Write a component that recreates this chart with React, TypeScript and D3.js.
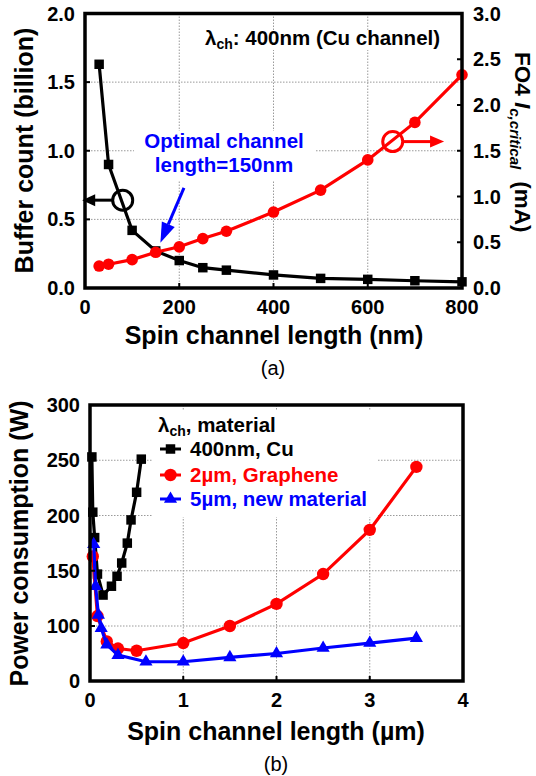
import React from "react";
import * as d3 from "d3";

// ---------- (a) data ----------
const lengthNm = [30, 50, 100, 150, 200, 250, 300, 400, 500, 600, 700, 800];
const bufferCount = [1.63, 0.9, 0.42, 0.27, 0.2, 0.148, 0.13, 0.095, 0.07, 0.063, 0.053, 0.045];
const icCritical = [0.24, 0.26, 0.31, 0.39, 0.45, 0.54, 0.62, 0.83, 1.07, 1.4, 1.81, 2.33];
const topXTicks = [0, 200, 400, 600, 800];
const topXTickLabels = ["0", "200", "400", "600", "800"];
const leftTicks = [0, 0.5, 1, 1.5, 2];
const leftTickLabels = ["0.0", "0.5", "1.0", "1.5", "2.0"];
const rightTicks = [0, 0.5, 1, 1.5, 2, 2.5, 3];
const rightTickLabels = ["0.0", "0.5", "1.0", "1.5", "2.0", "2.5", "3.0"];

// ---------- (b) data ----------
const cuLen = [0.02, 0.03, 0.05, 0.08, 0.14, 0.23, 0.29, 0.34, 0.4, 0.44, 0.5, 0.55];
const cuPower = [253, 203, 180, 147, 128, 136, 145, 157, 175, 196, 221, 251];
const grLen = [0.03, 0.08, 0.18, 0.3, 0.5, 1, 1.5, 2, 2.5, 3, 3.5];
const grPower = [163, 109, 72, 59, 55, 69, 100, 120, 147, 187, 244];
const nmLen = [0.04, 0.06, 0.09, 0.12, 0.18, 0.3, 0.6, 1, 1.5, 2, 2.5, 3, 3.5];
const nmPower = [174, 136, 110, 96, 66, 47, 35, 35, 43, 50, 60, 69, 78];
const botXTicks = [0, 1, 2, 3, 4];
const botXTickLabels = ["0", "1", "2", "3", "4"];
const botYTicks = [0, 100, 150, 200, 250, 300];
const botYTickLabels = ["0", "100", "150", "200", "250", "300"];
const legendLabels = ["400nm, Cu", "2\u00b5m, Graphene", "5\u00b5m, new material"];

const FONT = "'Liberation Sans', Arial, Helvetica, sans-serif";
const RED = "#ff0000";
const BLUE = "#0000ff";
const GRID = "#9a9a9a";

export default function App() {
  const xT = d3.scaleLinear().domain([0, 800]).range([85, 462]);
  const yL = d3.scaleLinear().domain([0, 2]).range([288, 13.5]);
  const yR = d3.scaleLinear().domain([0, 3]).range([288, 13.5]);
  const xB = d3.scaleLinear().domain([0, 4]).range([90, 463]);
  const yB = d3.scaleLinear().domain([0, 100, 300]).range([681, 626, 405]);

  const mkLine = (xs: number[], ys: number[], sx: any, sy: any) =>
    d3.line()(xs.map((x, i) => [sx(x), sy(ys[i])] as [number, number])) || "";
  const sqPath = d3.symbol(d3.symbolSquare, 90)() || "";
  const triPath = d3.symbol(d3.symbolTriangle, 75)() || "";

  // annotation anchor points (data units)
  const blkCirc = { x: 80, y: 0.64 };
  const blkTip = -6;
  const redCirc = { x: 653, y: 1.6 };
  const redTip = 762;
  const blueStart = { x: 210, y: 0.73 };
  const blueTip = { x: 160, y: 0.33 };

  const bs = [xT(blueStart.x), yL(blueStart.y)];
  const bt = [xT(blueTip.x), yL(blueTip.y)];
  const dx = bt[0] - bs[0], dy = bt[1] - bs[1];
  const len = Math.hypot(dx, dy);
  const ux = dx / len, uy = dy / len;
  const hb = [bt[0] - ux * 20, bt[1] - uy * 20];
  const px = -uy, py = ux;
  const blueHead = `M${bt[0]},${bt[1]}L${hb[0] + px * 7},${hb[1] + py * 7}L${hb[0] - px * 7},${hb[1] - py * 7}Z`;

  const bcx = xT(blkCirc.x), bcy = yL(blkCirc.y);
  const btx = xT(blkTip);
  const rcx = xT(redCirc.x), rcy = yR(redCirc.y);
  const rtx = xT(redTip);

  return (
    <svg width={536} height={776} style={{ position: "absolute", left: 0, top: 0, background: "#fff" }} fontFamily={FONT}>
      <rect x={0} y={0} width={536} height={776} fill="#fff" />
      {/* ========== (a) ========== */}
      <g>
        {topXTicks.slice(1, -1).map((t) => (
          <line key={"gx" + t} x1={xT(t)} x2={xT(t)} y1={yL(2)} y2={yL(0)} stroke={GRID} strokeWidth={1} strokeDasharray="1.5 1.5" />
        ))}
        {leftTicks.slice(1, -1).map((t) => (
          <line key={"gy" + t} x1={xT(0)} x2={xT(800)} y1={yL(t)} y2={yL(t)} stroke={GRID} strokeWidth={1} strokeDasharray="1.5 1.5" />
        ))}
        {/* text backgrounds */}
        <rect x={200} y={30} width={246} height={20} fill="#fff" />
        <rect x={134} y={131} width={182} height={49} fill="#fff" />

        {/* buffer count */}
        <path d={mkLine(lengthNm, bufferCount, xT, yL)} fill="none" stroke="#000" strokeWidth={3.2} />
        {lengthNm.map((x, i) => (
          <path key={"bq" + i} d={sqPath} transform={`translate(${xT(x)},${yL(bufferCount[i])})`} fill="#000" />
        ))}
        {/* Ic critical */}
        <path d={mkLine(lengthNm, icCritical, xT, yR)} fill="none" stroke={RED} strokeWidth={3.2} />
        {lengthNm.map((x, i) => (
          <circle key={"rc" + i} cx={xT(x)} cy={yR(icCritical[i])} r={5.8} fill={RED} />
        ))}

        {/* frame */}
        <rect x={xT(0)} y={yL(2)} width={xT(800) - xT(0)} height={yL(0) - yL(2)} fill="none" stroke="#000" strokeWidth={3.5} />
        {leftTicks.slice(1, -1).map((t) => (
          <line key={"lt" + t} x1={xT(0)} x2={xT(0) + 5} y1={yL(t)} y2={yL(t)} stroke="#000" strokeWidth={2} />
        ))}
        {rightTicks.slice(1, -1).map((t) => (
          <line key={"rt" + t} x1={xT(800)} x2={xT(800) - 5} y1={yR(t)} y2={yR(t)} stroke="#000" strokeWidth={2} />
        ))}
        {topXTicks.slice(1, -1).map((t) => (
          <line key={"xt" + t} x1={xT(t)} x2={xT(t)} y1={yL(0)} y2={yL(0) - 5} stroke="#000" strokeWidth={2} />
        ))}

        {/* tick labels */}
        {leftTicks.map((t, i) => (
          <text key={"ll" + t} x={75} y={yL(t) + 7} textAnchor="end" fontSize={20} fontWeight="bold">{leftTickLabels[i]}</text>
        ))}
        {rightTicks.map((t, i) => (
          <text key={"rl" + t} x={473} y={yR(t) + 7} textAnchor="start" fontSize={20} fontWeight="bold">{rightTickLabels[i]}</text>
        ))}
        {topXTicks.map((t, i) => (
          <text key={"xl" + t} x={xT(t)} y={314} textAnchor="middle" fontSize={20} fontWeight="bold">{topXTickLabels[i]}</text>
        ))}

        {/* axis titles */}
        <text transform="translate(33,150.5) rotate(-90)" textAnchor="middle" fontSize={25} fontWeight="bold">Buffer count (billion)</text>
        <text transform="translate(515,52) rotate(90)" textAnchor="start" fontSize={22.5} fontWeight="bold">
          <tspan>FO4 </tspan>
          <tspan fontStyle="italic">I</tspan>
          <tspan fontStyle="italic" fontSize={15} dy={5}>c,critical</tspan>
          <tspan dy={-5} dx={12}>(mA)</tspan>
        </text>
        <text x={274} y={344} textAnchor="middle" fontSize={25} fontWeight="bold">Spin channel length (nm)</text>
        <text x={273} y={375} textAnchor="middle" fontSize={20}>(a)</text>

        {/* annotations */}
        <text x={205} y={45} fontSize={20.5} fontWeight="bold">
          <tspan>{"\u03bb"}</tspan>
          <tspan fontSize={14} dy={4}>ch</tspan>
          <tspan dy={-4}>: 400nm (Cu channel)</tspan>
        </text>
        <text x={224} y={148} textAnchor="middle" fontSize={20.5} fontWeight="bold" fill={BLUE}>Optimal channel</text>
        <text x={224} y={172} textAnchor="middle" fontSize={20.5} fontWeight="bold" fill={BLUE}>length=150nm</text>

        <circle cx={bcx} cy={bcy} r={10} fill="none" stroke="#000" strokeWidth={3} />
        <line x1={bcx - 10} x2={btx + 12} y1={bcy} y2={bcy} stroke="#000" strokeWidth={3} />
        <path d={`M${btx},${bcy}L${btx + 13},${bcy - 6}L${btx + 13},${bcy + 6}Z`} fill="#000" />

        <circle cx={rcx} cy={rcy} r={10} fill="none" stroke={RED} strokeWidth={3} />
        <line x1={rcx + 10} x2={rtx - 12} y1={rcy} y2={rcy} stroke={RED} strokeWidth={3} />
        <path d={`M${rtx},${rcy}L${rtx - 14},${rcy - 6}L${rtx - 14},${rcy + 6}Z`} fill={RED} />

        <line x1={bs[0]} y1={bs[1]} x2={hb[0]} y2={hb[1]} stroke={BLUE} strokeWidth={3} />
        <path d={blueHead} fill={BLUE} />
      </g>

      {/* ========== (b) ========== */}
      <g>
        {botXTicks.slice(1, -1).map((t) => (
          <line key={"bgx" + t} x1={xB(t)} x2={xB(t)} y1={yB(300)} y2={yB(0)} stroke={GRID} strokeWidth={1} strokeDasharray="1.5 1.5" />
        ))}
        {botYTicks.slice(1, -1).map((t) => (
          <line key={"bgy" + t} x1={xB(0)} x2={xB(4)} y1={yB(t)} y2={yB(t)} stroke={GRID} strokeWidth={1} strokeDasharray="1.5 1.5" />
        ))}
        {/* legend background */}
        <rect x={152} y={410} width={226} height={107} fill="#fff" />

        <path d={mkLine(cuLen, cuPower, xB, yB)} fill="none" stroke="#000" strokeWidth={3.2} />
        {cuLen.map((x, i) => (
          <path key={"cq" + i} d={sqPath} transform={`translate(${xB(x)},${yB(cuPower[i])})`} fill="#000" />
        ))}
        <path d={mkLine(grLen, grPower, xB, yB)} fill="none" stroke={RED} strokeWidth={3.2} />
        {grLen.map((x, i) => (
          <circle key={"gc" + i} cx={xB(x)} cy={yB(grPower[i])} r={6.2} fill={RED} />
        ))}
        <path d={mkLine(nmLen, nmPower, xB, yB)} fill="none" stroke={BLUE} strokeWidth={3.2} />
        {nmLen.map((x, i) => (
          <path key={"nt" + i} d={triPath} transform={`translate(${xB(x)},${yB(nmPower[i])})`} fill={BLUE} />
        ))}

        <rect x={xB(0)} y={yB(300)} width={xB(4) - xB(0)} height={yB(0) - yB(300)} fill="none" stroke="#000" strokeWidth={3.5} />
        {botYTicks.slice(1, -1).map((t) => (
          <line key={"blt" + t} x1={xB(0)} x2={xB(0) + 5} y1={yB(t)} y2={yB(t)} stroke="#000" strokeWidth={2} />
        ))}
        {botXTicks.slice(1, -1).map((t) => (
          <line key={"bxt" + t} x1={xB(t)} x2={xB(t)} y1={yB(0)} y2={yB(0) - 5} stroke="#000" strokeWidth={2} />
        ))}

        {botYTicks.map((t, i) => (
          <text key={"byl" + t} x={80} y={yB(t) + 7} textAnchor="end" fontSize={20} fontWeight="bold">{botYTickLabels[i]}</text>
        ))}
        {botXTicks.map((t, i) => (
          <text key={"bxl" + t} x={xB(t)} y={707} textAnchor="middle" fontSize={20} fontWeight="bold">{botXTickLabels[i]}</text>
        ))}

        <text transform="translate(28,543.5) rotate(-90)" textAnchor="middle" fontSize={25} fontWeight="bold">Power consumption (W)</text>
        <text x={276} y={740} textAnchor="middle" fontSize={25} fontWeight="bold">{"Spin channel length (\u00b5m)"}</text>
        <text x={276} y={771} textAnchor="middle" fontSize={20}>(b)</text>

        {/* legend */}
        <text x={158} y={432} fontSize={20.5} fontWeight="bold">
          <tspan>{"\u03bb"}</tspan>
          <tspan fontSize={14} dy={4}>ch</tspan>
          <tspan dy={-4}>, material</tspan>
        </text>
        {legendLabels.map((lab, i) => {
          const yb = [456, 482, 506][i];
          const col = ["#000", RED, BLUE][i];
          const cy = yb - 7;
          return (
            <g key={"lg" + i}>
              <line x1={160} x2={181} y1={cy} y2={cy} stroke={col} strokeWidth={3} />
              {i === 0 && <path d={sqPath} transform={`translate(170.5,${cy})`} fill={col} />}
              {i === 1 && <circle cx={170.5} cy={cy} r={6.2} fill={col} />}
              {i === 2 && <path d={triPath} transform={`translate(170.5,${cy})`} fill={col} />}
              <text x={190} y={yb} fontSize={20.5} fontWeight="bold" fill={col}>{lab}</text>
            </g>
          );
        })}
      </g>
    </svg>
  );
}
